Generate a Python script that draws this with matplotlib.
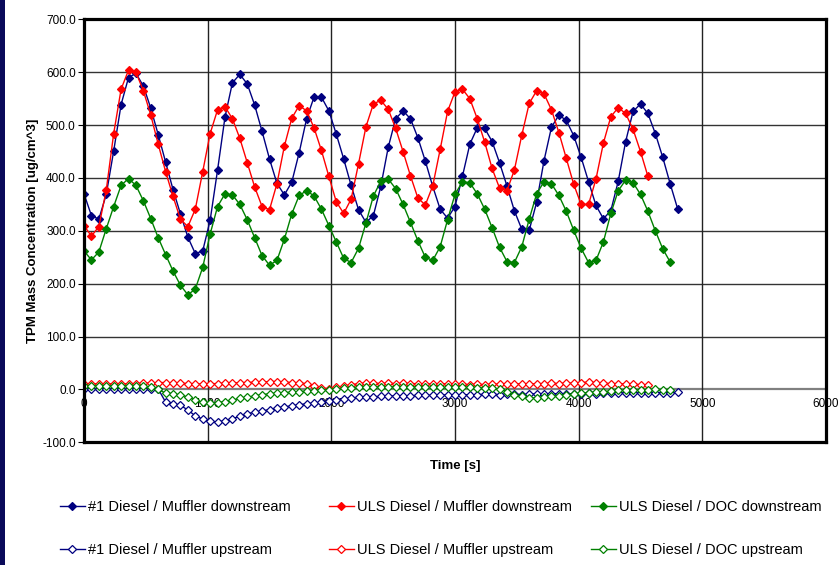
import numpy as np
import matplotlib
matplotlib.use('Agg')
import matplotlib.pyplot as plt
from matplotlib.patches import Rectangle

plt.rcParams['font.family'] = ['Liberation Sans', 'DejaVu Sans']

# ─── data (sampled every 60 s) ───
SAMPLE_S = 60

diesel1_muffler_down = [
    370, 329, 322, 369, 451, 539, 590, 598, 574, 532, 482, 430, 378, 332, 288, 257, 262, 320,
    415, 515, 580, 596, 578, 538, 488, 436, 390, 368, 392, 448, 512, 553, 553, 527, 483,
    436, 386, 340, 316, 329, 384, 458, 512, 527, 512, 476, 432, 384, 341, 324, 346, 403,
    464, 495, 494, 469, 429, 385, 338, 303, 301, 354, 433, 496, 519, 509, 480, 439, 393,
    348, 323, 338, 394, 469, 526, 540, 522, 484, 439, 389, 342]
uls_muffler_down = [
    310, 290, 308, 377, 484, 568, 604, 600, 565, 519, 464, 412, 365, 322, 308, 341, 412, 484,
    529, 535, 512, 475, 429, 383, 346, 340, 389, 460, 513, 537, 527, 495, 452, 403, 355,
    333, 360, 427, 497, 540, 547, 530, 494, 450, 404, 362, 349, 385, 454, 526, 563, 568,
    550, 512, 468, 418, 381, 376, 415, 481, 541, 565, 559, 529, 486, 437, 388, 350, 350,
    398, 466, 516, 533, 522, 492, 450, 403]
uls_doc_down = [
    262, 245, 260, 304, 346, 386, 399, 386, 357, 323, 287, 255, 224, 197, 179, 190, 231, 294,
    346, 370, 368, 350, 321, 287, 253, 235, 244, 284, 332, 367, 376, 366, 341, 310, 279,
    248, 240, 267, 315, 366, 394, 398, 380, 350, 316, 281, 250, 244, 270, 321, 369, 393,
    391, 370, 341, 306, 269, 242, 240, 270, 322, 370, 393, 389, 367, 337, 301, 267, 240,
    244, 279, 333, 376, 396, 391, 369, 337, 300, 266, 241]

diesel1_muffler_up = [
    1, 0, 1, 0, 1, 1, 0, 1, 0, 1, 1,
    -24, -27, -30, -39, -50, -56, -60, -62, -59, -55, -51, -46, -43, -41,
    -38, -35, -33, -31, -29, -27, -26, -24, -22, -20, -18, -16, -15,
    -14, -14, -13, -13, -12, -12, -12, -11, -11, -11, -11, -10, -10, -10, -10,
    -10, -9, -9, -10, -9, -9, -10, -9, -8, -9, -8, -8, -9, -8, -8, -7, -8, -7, -7, -7,
    -6, -7, -6, -6, -6, -6, -6, -5]
uls_muffler_up = [
    11, 10, 11, 10, 11, 10, 11, 11, 12, 12, 13,
    13, 12, 12, 11, 11, 10, 11, 11, 12, 12,
    13, 13, 14, 14, 15, 15, 14, 13, 12,
    11, 7, 3, 1, 4, 6, 9,
    11, 12, 12, 11, 12, 11, 12, 11, 11, 10, 11, 10, 11, 10,
    10, 9, 10, 9, 10, 10, 11, 10, 11, 10, 11, 11, 12, 11, 12,
    12, 13, 14, 13, 12, 11, 11, 10, 10, 9, 9]
uls_doc_up = [
    7, 6, 7, 6, 7, 6, 7, 6, 6, 5,
    0, -7, -8, -11, -14, -20, -24, -26, -25, -23, -20, -17, -15, -12, -10, -8, -7, -6, -5,
    -4, -3, -3, -2, -1, 0,
    2, 3, 4, 4, 5, 5, 5, 5, 5, 5, 5, 4, 4, 4, 4, 4, 4, 4, 3, 3, 2, 1,
    -4, -10, -13, -16, -16, -14, -13, -12, -10, -8, -7, -6, -5, -4, -3, -2, -2, -2, -1, -1,
    0, -2, -2]

series = [
    ('#1 Diesel / Muffler downstream', diesel1_muffler_down, '#000080', True),
    ('#1 Diesel / Muffler upstream', diesel1_muffler_up, '#000080', False),
    ('ULS Diesel / Muffler downstream', uls_muffler_down, '#ff0000', True),
    ('ULS Diesel / Muffler upstream', uls_muffler_up, '#ff0000', False),
    ('ULS Diesel / DOC downstream', uls_doc_down, '#008000', True),
    ('ULS Diesel / DOC upstream', uls_doc_up, '#008000', False),
]

# ─── figure ───
fig = plt.figure(figsize=(8.38, 5.65), dpi=100)
fig.patches.append(Rectangle((0, 0), 5 / 838, 1, transform=fig.transFigure,
                             facecolor='#0a0a5a', edgecolor='none'))

ax = fig.add_axes([84 / 838, 1 - 442.3 / 565, 742 / 838, 422.9 / 565])
ax.set_xlim(0, 6000)
ax.set_ylim(-100, 700)

handles = []
for label, vals, col, filled in series:
    t = np.arange(len(vals)) * SAMPLE_S
    h, = ax.plot(t, vals, '-', color=col, lw=1.0, marker='D', markersize=4.2,
                 markerfacecolor=col if filled else 'white',
                 markeredgecolor=col, markeredgewidth=0.9, label=label, zorder=4)
    handles.append(h)

# grid
yticks = np.arange(-100, 701, 100)
for y in yticks[2:]:
    ax.axhline(y, color='#333333', lw=1.0, zorder=1)
ax.axhline(0, color='#808080', lw=1.6, zorder=1)
xticks = np.arange(0, 6001, 1000)
for x in xticks[1:-1]:
    ax.axvline(x, color='#222222', lw=1.0, zorder=1)

for s in ax.spines.values():
    s.set_linewidth(2.3)
    s.set_color('black')
    s.set_zorder(6)

ax.set_yticks(yticks)
ax.set_yticklabels([f'{v:.1f}' for v in yticks], fontsize=8.5)
ax.tick_params(axis='y', direction='out', length=4, width=0.8, pad=2)
ax.set_xticks([])
for x in xticks:
    ax.annotate(f'{x}', xy=(x, 0), xytext=(0, -6.5), textcoords='offset points',
                ha='center', va='top', fontsize=8.5, zorder=3)

ax.set_ylabel('TPM Mass Concentration [ug/cm^3]', fontsize=9.5, fontweight='bold')
ax.yaxis.set_label_coords((39 - 84) / 742, 0.5)
fig.text(455 / 838, 1 - 466 / 565, 'Time [s]', fontsize=9.5, fontweight='bold',
         ha='center', va='center')

# legend: three columns, downstream above upstream
col_x = [60, 329, 591]
for k, x0 in enumerate(col_x):
    leg = fig.legend(handles=handles[2 * k:2 * k + 2], loc='upper left',
                     bbox_to_anchor=(x0 / 838, 1 - 500 / 565), ncol=1, frameon=False,
                     fontsize=10.5, handlelength=1.7, handletextpad=0.2,
                     labelspacing=2.0, borderaxespad=0, borderpad=0)

fig.savefig('out.png', dpi=100, facecolor='white')
